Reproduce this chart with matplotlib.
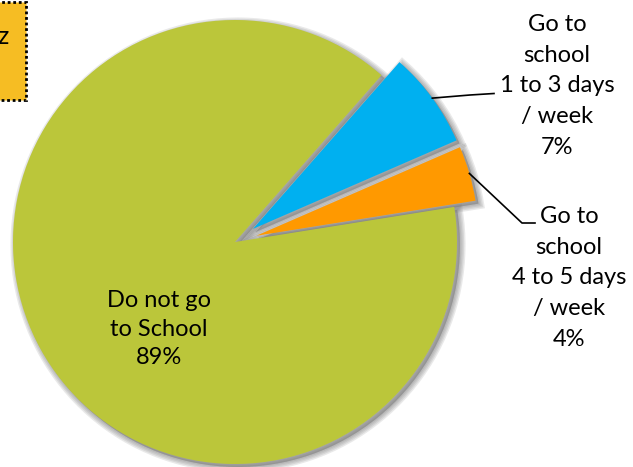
"""
School attendance pie: share of children by days of school per week.
"""
import numpy as np
import matplotlib.pyplot as plt
from matplotlib.patches import Wedge, Rectangle

plt.rcParams['font.family'] = ['Lato', 'DejaVu Sans']

# Slices in drawing order (counter-clockwise from the start angle)
labels = ['Go to\nschool\n4 to 5 days\n/ week', 'Go to\nschool\n1 to 3 days\n/ week', 'Do not go\nto School']
shares = [4, 7, 89]
colors = ['#FF9900', '#00B0F0', '#BBC63A']
explode = [0.1, 0.1, 0.0]   # fraction of the radius

W, H = 633, 467
R = 222
fig = plt.figure(figsize=(W / 100, H / 100), dpi=100)
ax = fig.add_axes([0, 0, 1, 1])

# pie() takes explode in data units, so scale by the radius
wedges, _ = ax.pie(shares, explode=[e * R for e in explode], colors=colors,
                   startangle=9.1, center=(235, 225), radius=R,
                   counterclock=True, wedgeprops=dict(linewidth=0, zorder=2))
ax.set_xlim(0, W)
ax.set_ylim(0, H)
ax.set_aspect('equal')
ax.axis('off')

# soft drop shadow under every slice
for w in wedges:
    cx, cy = w.center
    for lw in (8, 6, 4, 2):
        ax.add_patch(Wedge((cx + 3, cy - 3), w.r, w.theta1, w.theta2,
                           facecolor='#707070', edgecolor='#707070',
                           linewidth=lw, alpha=0.15, zorder=1))


def text_for(i):
    return f"{labels[i]}\n{shares[i]}%"


def arc_mid(w):
    a = np.deg2rad((w.theta1 + w.theta2) / 2)
    return w.center[0] + w.r * np.cos(a), w.center[1] + w.r * np.sin(a)


fs = 17
ls = 1.58
# inside label for the big slice
ax.text(159, 138, text_for(2), ha='center', va='center', fontsize=fs,
        linespacing=1.45, zorder=5)

# 1 to 3 days label with leader
x0, y0 = arc_mid(wedges[1])
ax.plot([x0, 470, 494], [y0, 372, 373.5], color='black', lw=1.2, zorder=5)
ax.text(557, 381, text_for(1), ha='center', va='center', fontsize=fs,
        linespacing=ls, zorder=5)

# 4 to 5 days label with leader
x0, y0 = arc_mid(wedges[0])
ax.plot([x0, 522, 535], [y0, 244, 244], color='black', lw=1.2, zorder=5)
ax.text(569, 189, text_for(0), ha='center', va='center', fontsize=fs,
        linespacing=ls, zorder=5)

# corner tag box
ax.add_patch(Rectangle((-10, 367), 36, 98, facecolor='#F6BD23',
                       edgecolor='black', linewidth=2, linestyle=(0, (1, 1)),
                       zorder=3))
ax.text(8, 430, 'z', ha='right', va='center', fontsize=18, zorder=4,
        clip_on=True)

fig.savefig('out.png', dpi=100)
